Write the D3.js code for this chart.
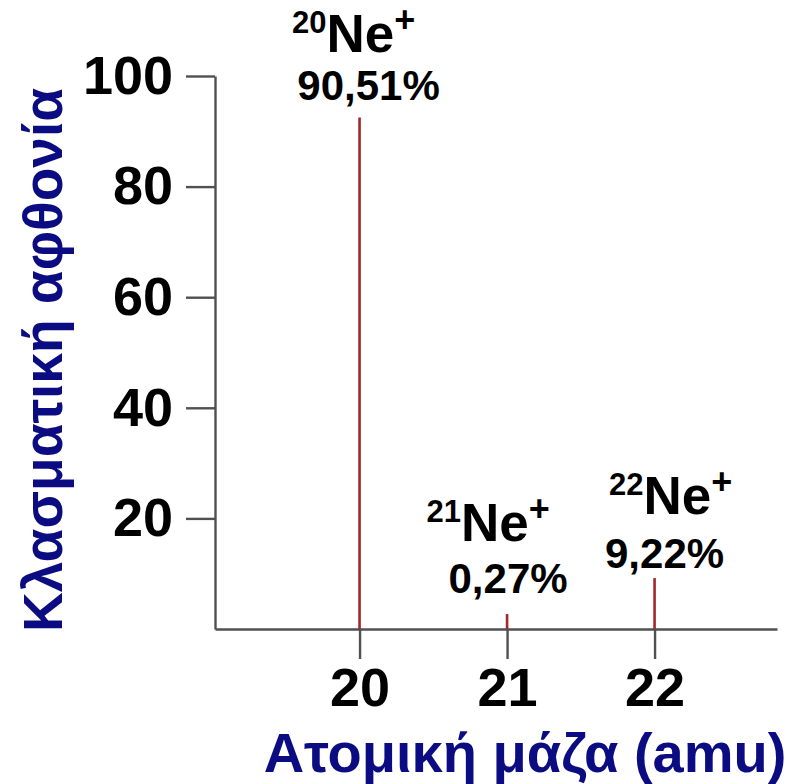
<!DOCTYPE html>
<html>
<head>
<meta charset="utf-8">
<script src="https://cdn.jsdelivr.net/npm/d3@7"></script>
<style>
  body { margin: 0; background: #fff; }
  svg text { font-family: "Liberation Sans", Arial, sans-serif; font-weight: bold; }
</style>
</head>
<body>
<div id="chart"></div>
<script>
// isotopes of neon
var masses = [20, 21, 22];
var isotopeNames = ["20", "21", "22"];
var percentLabels = ["90,51%", "0,27%", "9,22%"];
var lineHeights = [92.5, 2.7, 9.2]; // drawn heights of the lines
var yTicks = [20, 40, 60, 80, 100];
var xTicks = [20, 21, 22];
var xTitle = "Ατομική μάζα (amu)";
var yTitle = "Κλασματική αφθονία";

// label nudges (px) : [ion dx, ion dy, pct dx, pct dy] from the top of each line
var labelNudge = [[-6, -65, 9, -17], [-19, -73, 1, -21], [16, -64, 10, -10]];

var width = 794, height = 784;
var svg = d3.select("#chart").append("svg")
    .attr("width", width)
    .attr("height", height);

var x = d3.scaleLinear().domain([19.02, 22.83]).range([215, 777]);
var y = d3.scaleLinear().domain([0, 100]).range([629, 76]);

/* Axes */
var xAxis = svg.append("g")
    .attr("transform", "translate(0," + y(0) + ")")
    .call(d3.axisBottom(x).tickValues(xTicks).tickSize(30).tickSizeOuter(0).tickPadding(9).tickFormat(d3.format("d")));

var yAxis = svg.append("g")
    .attr("transform", "translate(" + x.range()[0] + ",0)")
    .call(d3.axisLeft(y).tickValues(yTicks).tickSize(29).tickSizeOuter(0).tickPadding(13));

[xAxis, yAxis].forEach(function (g) {
    g.select(".domain").attr("stroke", "#505050").attr("stroke-width", 2.4);
    g.selectAll(".tick line").attr("stroke", "#505050").attr("stroke-width", 2.4);
    g.selectAll(".tick text")
        .attr("fill", "#000")
        .style("font-size", "54px");
});

/* Peaks */
svg.selectAll(".peak")
    .data(masses)
    .join("line")
    .attr("class", "peak")
    .attr("x1", d => x(d))
    .attr("x2", d => x(d))
    .attr("y1", y(0))
    .attr("y2", (d, i) => y(lineHeights[i]))
    .attr("stroke", "#a3262a")
    .attr("stroke-width", 2.6);

/* Ion labels */
var ion = svg.selectAll(".ion")
    .data(masses)
    .join("text")
    .attr("class", "ion")
    .attr("text-anchor", "middle")
    .attr("x", (d, i) => x(d) + labelNudge[i][0])
    .attr("y", (d, i) => y(lineHeights[i]) + labelNudge[i][1])
    .attr("fill", "#000");

ion.append("tspan")
    .style("font-size", "31px")
    .attr("dy", -19)
    .text((d, i) => isotopeNames[i]);
ion.append("tspan")
    .style("font-size", "53px")
    .attr("dy", 19)
    .text("Ne");
ion.append("tspan")
    .style("font-size", "36px")
    .attr("dy", -20)
    .text("+");

svg.selectAll(".pct")
    .data(masses)
    .join("text")
    .attr("class", "pct")
    .attr("text-anchor", "middle")
    .attr("x", (d, i) => x(d) + labelNudge[i][2])
    .attr("y", (d, i) => y(lineHeights[i]) + labelNudge[i][3])
    .attr("fill", "#000")
    .style("font-size", "42px")
    .text((d, i) => percentLabels[i]);

/* Axis titles */
svg.append("text")
    .attr("x", 525)
    .attr("y", 772)
    .attr("text-anchor", "middle")
    .attr("fill", "#0c0c82")
    .style("font-size", "56px")
    .text(xTitle);

svg.append("text")
    .attr("transform", "translate(62,360) rotate(-90)")
    .attr("text-anchor", "middle")
    .attr("fill", "#0c0c82")
    .style("font-size", "55px")
    .text(yTitle);
</script>
</body>
</html>
